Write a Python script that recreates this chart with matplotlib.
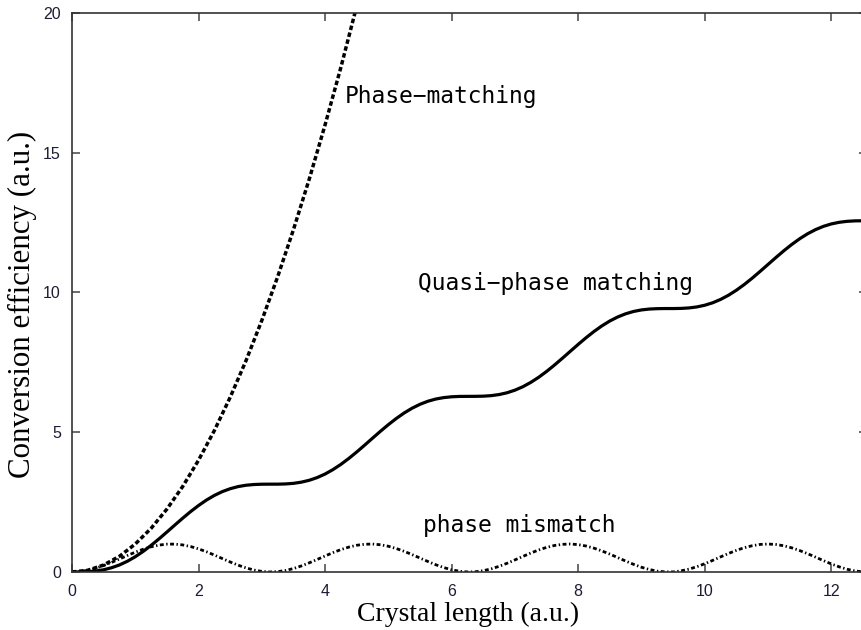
import matplotlib
matplotlib.use("Agg")
import matplotlib.pyplot as plt

# crystal length samples (a.u.)
length = [0.0, 0.125, 0.25, 0.375, 0.5, 0.625, 0.75, 0.875,
          1.0, 1.125, 1.25, 1.375, 1.5, 1.625, 1.75, 1.875,
          2.0, 2.125, 2.25, 2.375, 2.5, 2.625, 2.75, 2.875,
          3.0, 3.125, 3.25, 3.375, 3.5, 3.625, 3.75, 3.875,
          4.0, 4.125, 4.25, 4.375, 4.5, 4.625, 4.75, 4.875,
          5.0, 5.125, 5.25, 5.375, 5.5, 5.625, 5.75, 5.875,
          6.0, 6.125, 6.25, 6.375, 6.5, 6.625, 6.75, 6.875,
          7.0, 7.125, 7.25, 7.375, 7.5, 7.625, 7.75, 7.875,
          8.0, 8.125, 8.25, 8.375, 8.5, 8.625, 8.75, 8.875,
          9.0, 9.125, 9.25, 9.375, 9.5, 9.625, 9.75, 9.875,
          10.0, 10.125, 10.25, 10.375, 10.5, 10.625, 10.75, 10.875,
          11.0, 11.125, 11.25, 11.375, 11.5, 11.625, 11.75, 11.875,
          12.0, 12.125, 12.25, 12.375, 12.5]

# perfect phase matching (grows quadratically, leaves the frame above 20)
pm_length = [0.0, 0.25, 0.5, 0.75, 1.0, 1.25, 1.5, 1.75, 2.0, 2.25, 2.5,
             2.75, 3.0, 3.25, 3.5, 3.75, 4.0, 4.25, 4.5]
pm_eff = [0.0, 0.06, 0.25, 0.56, 1.0, 1.56, 2.25, 3.06, 4.0, 5.06, 6.25,
          7.56, 9.0, 10.56, 12.25, 14.06, 16.0, 18.06, 20.25]

# quasi-phase matching: staircase growth
qpm_eff = [0.000, 0.001, 0.010, 0.034, 0.079, 0.151, 0.251, 0.383,
           0.545, 0.736, 0.951, 1.184, 1.429, 1.679, 1.925, 2.161,
           2.378, 2.573, 2.739, 2.875, 2.979, 3.055, 3.103, 3.129,
           3.140, 3.142, 3.142, 3.150, 3.171, 3.214, 3.281, 3.378,
           3.505, 3.664, 3.851, 4.063, 4.294, 4.538, 4.788, 5.035,
           5.272, 5.492, 5.690, 5.860, 6.000, 6.109, 6.188, 6.239,
           6.268, 6.281, 6.283, 6.284, 6.290, 6.309, 6.348, 6.412,
           6.505, 6.628, 6.783, 6.966, 7.175, 7.404, 7.647, 7.896,
           8.144, 8.383, 8.606, 8.807, 8.981, 9.125, 9.238, 9.321,
           9.376, 9.407, 9.421, 9.425, 9.425, 9.430, 9.447, 9.483,
           9.544, 9.632, 9.752, 9.902, 10.082, 10.287, 10.514, 10.756,
           11.005, 11.253, 11.494, 11.719, 11.923, 12.101, 12.249, 12.366,
           12.453, 12.511, 12.546, 12.562, 12.566]

# phase mismatch: oscillates between 0 and 1
mis_eff = [0.000, 0.016, 0.061, 0.134, 0.230, 0.342, 0.465, 0.589,
           0.708, 0.814, 0.901, 0.962, 0.995, 0.997, 0.968, 0.910,
           0.827, 0.723, 0.605, 0.481, 0.358, 0.244, 0.146, 0.069,
           0.020, 0.000, 0.012, 0.054, 0.123, 0.216, 0.327, 0.448,
           0.573, 0.693, 0.801, 0.890, 0.956, 0.992, 0.999, 0.974,
           0.920, 0.839, 0.738, 0.622, 0.498, 0.374, 0.258, 0.158,
           0.078, 0.025, 0.001, 0.008, 0.046, 0.112, 0.203, 0.311,
           0.432, 0.556, 0.677, 0.788, 0.880, 0.948, 0.989, 1.000,
           0.979, 0.928, 0.851, 0.752, 0.638, 0.514, 0.390, 0.273,
           0.168, 0.087, 0.030, 0.003, 0.002, 0.040, 0.101, 0.189,
           0.296, 0.415, 0.540, 0.662, 0.774, 0.869, 0.940, 0.986,
           1.000, 0.983, 0.937, 0.863, 0.766, 0.654, 0.531, 0.406,
           0.288, 0.183, 0.097, 0.036, 0.004]

x_ticks = [0, 2, 4, 6, 8, 10, 12]
y_ticks = [0, 5, 10, 15, 20]

fig = plt.figure(figsize=(8.62, 6.30), dpi=100)
ax = fig.add_axes([0.0835, 0.0921, 0.9225, 0.8873])

ax.plot(pm_length, pm_eff, color='black', lw=2.5, linestyle=(0, (1.3, 0.75)))
ax.plot(length, qpm_eff, color='black', lw=2.3)
ax.plot(length, mis_eff, color='black', lw=2.0,
        linestyle=(0, (1.4, 0.9, 0.5, 0.9)))

ax.set_xlim(0, 12.566)
ax.set_ylim(0, 20)
ax.set_xticks(x_ticks)
ax.set_yticks(y_ticks)

for side in ax.spines.values():
    side.set_linewidth(1.2)
    side.set_color('#333333')

ax.tick_params(direction='in', length=6, width=1.1, color='#444444',
               top=True, right=True, labelsize=11.5, labelcolor='#1c1c38')
ax.tick_params(axis='x', pad=9)
ax.tick_params(axis='y', pad=8)
for lab in ax.get_xticklabels() + ax.get_yticklabels():
    lab.set_family('Liberation Sans')

fig.text(0.543, 0.0143, 'Crystal length (a.u.)', family='Liberation Serif',
         fontsize=20, ha='center', va='baseline')
fig.text(0.026, 0.517, 'Conversion efficiency (a.u.)', family='Liberation Serif',
         fontsize=22.3, ha='center', va='center', rotation=90)

mono = dict(family='DejaVu Sans Mono', fontsize=16.5, va='baseline', ha='left')
ax.text(4.31, 16.78, 'Phase\u2212matching', **mono)
ax.text(5.47, 10.09, 'Quasi\u2212phase matching', **mono)
ax.text(5.55, 1.43, 'phase mismatch', **mono)

fig.savefig('out.png', dpi=100)
